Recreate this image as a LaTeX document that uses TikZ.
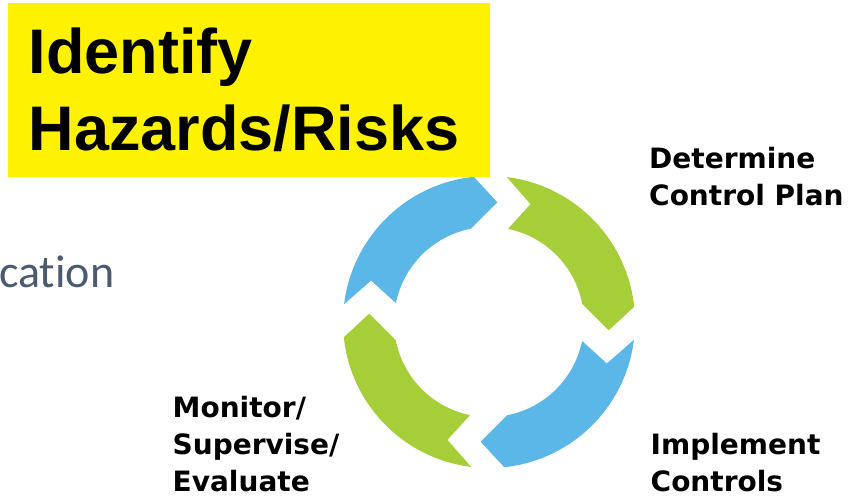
\documentclass[tikz,border=0pt]{standalone}
\usepackage{fontspec}
\setmainfont{DejaVu Sans}
\newfontfamily\arialfont{Liberation Sans}
\newfontfamily\calibrifont[Ligatures=CommonOff]{Carlito}

\definecolor{skyblue}{HTML}{5BB7E7}
\definecolor{leafgreen}{HTML}{A6CE39}
\definecolor{slategrey}{HTML}{4A5A70}

\begin{document}
\begin{tikzpicture}[x=1pt,y=1pt]
    \newcommand{\rout}{146} % outer radius of the ring
    \newcommand{\rin}{95}   % inner radius of the ring
    \newcommand{\rmid}{120} % radius of the arrow tips

    % set the style of the step labels
    \tikzset{
        steplabel/.style={
            anchor=base west,
            align=left,
            inner sep=0pt,
            font=\fontsize{28}{37}\selectfont\bfseries
            }
    }

    \useasboundingbox (0,0) rectangle (851,499);
    \coordinate (centre) at (489,177);

    % ring of arrows
    \foreach \rot/\col in {0/skyblue,-90/leafgreen,-180/skyblue,-270/leafgreen}{
        \fill[\col,shift={(centre)}] (\rot+173:\rout) arc[start angle=\rot+173, end angle=\rot+96, radius=\rout]
            -- (\rot+86:\rmid) -- (\rot+101:\rin) arc[start angle=\rot+101, end angle=\rot+168.5, radius=\rin]
            -- (\rot+160.6:125) -- cycle;
    }

    % left over word
    \node[anchor=base west, inner sep=0pt, text=slategrey, font=\calibrifont\fontsize{46}{50}\selectfont] (cation) at (-1,212) {cation};

    % headline box
    \node[fill=yellow, anchor=north west, minimum width=482pt, minimum height=174pt, text width=441pt,
          inner xsep=20.5pt, inner ysep=0pt, align=left,
          font=\arialfont\bfseries\fontsize{63}{77}\selectfont] (hazards) at (8,496) {Identify\\Hazards/Risks};

    % steps (base is the last line)
    \node[steplabel] (plan) at (649,293.5) {Determine\\Control Plan};
    \node[steplabel] (implement) at (650.5,7.5) {Implement\\Controls};
    \node[steplabel] (monitor) at (172.5,7.5) {Monitor/\\Supervise/\\Evaluate};

\end{tikzpicture}
\end{document}
